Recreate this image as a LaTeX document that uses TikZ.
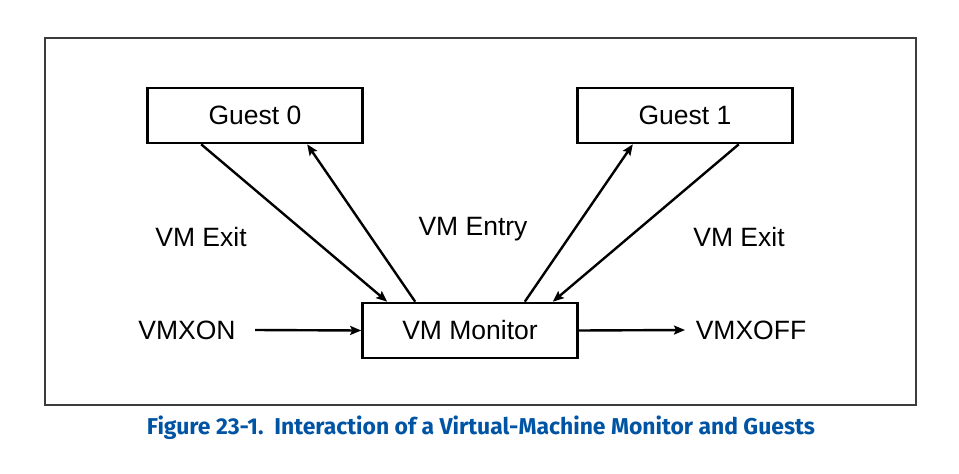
\documentclass[tikz,border=0pt]{standalone}
\usepackage{fontspec}
\setmainfont{Liberation Sans}
\newfontfamily\capfont{Fira Sans}
\usetikzlibrary{arrows.meta}
\definecolor{capblue}{RGB}{0,84,164}
\definecolor{framegray}{RGB}{60,60,60}
\begin{document}
\begin{tikzpicture}[x=1pt,y=-1pt,
  box/.style={draw=black,line width=2.6pt,minimum width=215pt,minimum height=55pt,inner sep=0pt,font=\fontsize{26.5}{30}\selectfont},
  lbl/.style={inner sep=0pt,font=\fontsize{26.5}{30}\selectfont},
  conn/.style={line width=2.4pt,-{Stealth[length=11pt,width=9pt,inset=2pt]}}]
\useasboundingbox (0,0) rectangle (959,474);
\fill[white] (0,0) rectangle (959,474);
\draw[framegray,line width=1.6pt] (45,38) rectangle (916,405);
\node[box] (g0) at (255,115.5) {Guest 0};
\node[box] (g1) at (685,115.5) {Guest 1};
\node[box] (vmm) at (470,330.5) {VM Monitor};
\node[lbl] (vmxon) at (187,330) {VMXON};
\node[lbl] (vmxoff) at (751,330) {VMXOFF};
\node[lbl] (exit0) at (201,237) {VM Exit};
\node[lbl] (entry) at (473,229) {VM Entry};
\node[lbl] (exit1) at (739,237) {VM Exit};
\coordinate (a1s) at (255,330);
\coordinate (a2e) at (685,330);
\path (g0.south west) ++(55,0) coordinate (e0s);
\path (vmm.north west) ++(26,0) coordinate (e0e);
\path (vmm.north west) ++(54,0) coordinate (n0s);
\path (g0.south west) ++(161,0) coordinate (n0e);
\path (vmm.north east) ++(-54,0) coordinate (n1s);
\path (g1.south east) ++(-161,0) coordinate (n1e);
\path (g1.south east) ++(-55,0) coordinate (e1s);
\path (vmm.north east) ++(-26,0) coordinate (e1e);
\draw[conn] (e0s) -- (e0e);
\draw[conn] (n0s) -- (n0e);
\draw[conn] (n1s) -- (n1e);
\draw[conn] (e1s) -- (e1e);
\draw[conn] (a1s) -- (vmm.west);
\draw[conn] (vmm.east) -- (a2e);
\node[inner sep=0pt,text=capblue] (cap) at (481,428) {\resizebox{668pt}{!}{\capfont\bfseries\fontsize{22}{26}\selectfont Figure 23-1.\ \ Interaction of a Virtual-Machine Monitor and Guests}};
\end{tikzpicture}
\end{document}
